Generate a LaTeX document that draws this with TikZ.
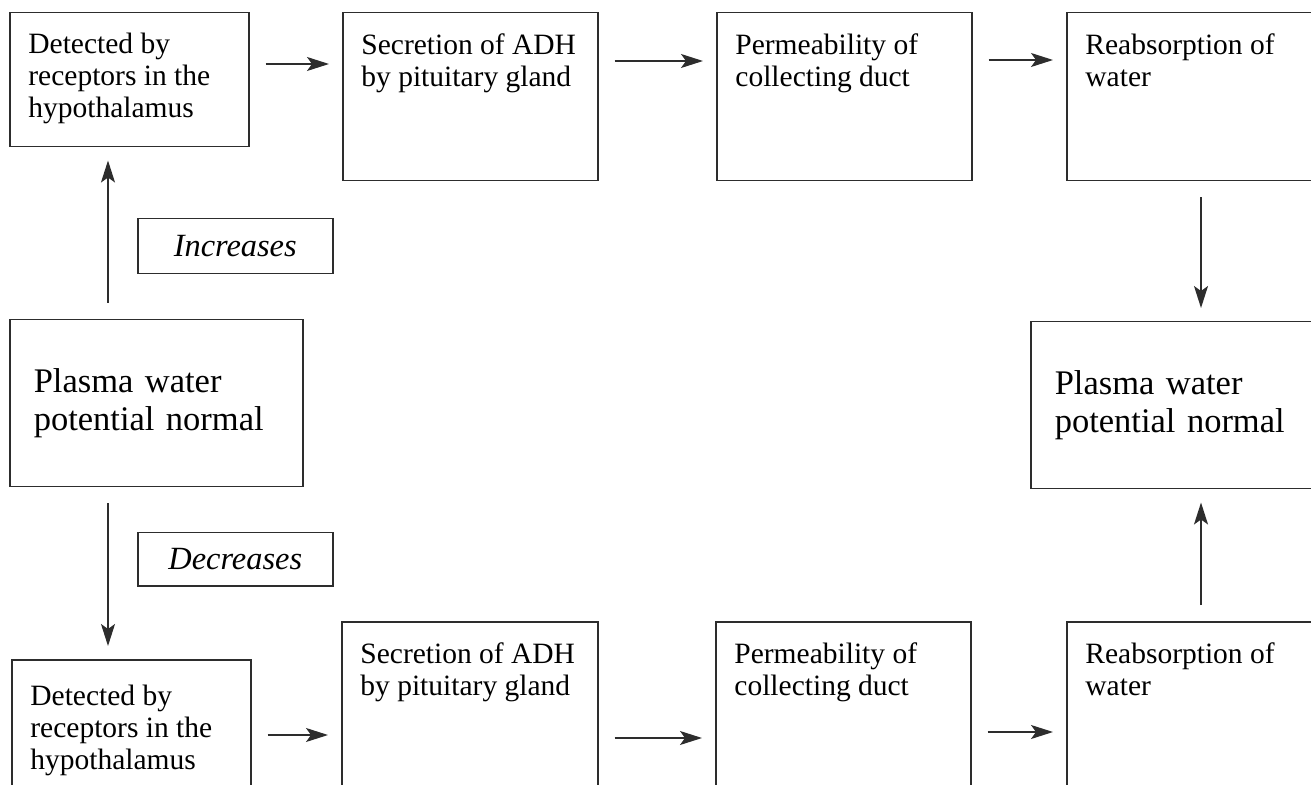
\documentclass[tikz,border=0pt]{standalone}
\usepackage{fontspec}
\setmainfont{Liberation Serif}
\usetikzlibrary{arrows.meta}
\definecolor{ink}{RGB}{45,45,45}

\tikzset{
  stage/.style={draw=ink, line width=0.75pt, anchor=north west, inner sep=0pt},
  lbl/.style={anchor=north west, align=left, inner xsep=9.5pt, inner ysep=10.5pt,
              font=\fontsize{14.75pt}{16pt}\selectfont},
  plasma/.style={stage, align=left, inner xsep=12pt,
                 font=\fontsize{17.25pt}{19pt}\selectfont},
  tag/.style={stage, minimum width=97.5pt, font=\fontsize{16.2pt}{19pt}\selectfont\itshape},
  flow/.style={draw=ink, line width=0.75pt,
               -{Stealth[length=11pt,width=7pt,inset=2.5pt]},
               shorten <=8pt, shorten >=6.5pt}
}

\begin{document}
\begin{tikzpicture}[x=0.5pt, y=-0.5pt]
\useasboundingbox (0,0) rectangle (1311,785);
\clip (0,0) rectangle (1311,785);

% top row
\node[stage, minimum width=119.5pt, minimum height=67pt,
      label={[lbl]north west:{Detected by\\receptors in the\\hypothalamus}}] (hypo1) at (9,12) {};
\node[stage, minimum width=127.5pt, minimum height=84pt,
      label={[lbl]north west:{Secretion of ADH\\by pituitary gland}}] (adh1) at (342,12) {};
\node[stage, minimum width=127.5pt, minimum height=84pt,
      label={[lbl]north west:{Permeability of\\collecting duct}}] (duct1) at (716,12) {};
\node[stage, minimum width=132pt, minimum height=84pt,
      label={[lbl]north west:{Reabsorption of\\water}}] (water1) at (1066,12) {};

% middle
\node[tag, minimum height=27.5pt] (up) at (137,218) {Increases};
\node[plasma, text width=122.5pt, minimum width=146.5pt, minimum height=83.5pt] (start) at (9,319)
  {Plasma water\\potential normal};
\node[plasma, text width=126pt, minimum width=150pt, minimum height=83.5pt, inner xsep=11.5pt] (normal) at (1030,321)
  {Plasma water\\potential normal};
\node[tag, minimum height=26.5pt] (down) at (137,532) {Decreases};

% bottom row
\node[stage, minimum width=119.5pt, minimum height=80pt,
      label={[lbl, inner ysep=13pt]north west:{Detected by\\receptors in the\\hypothalamus}}] (hypo2) at (11,659) {};
\node[stage, minimum width=128pt, minimum height=90pt,
      label={[lbl]north west:{Secretion of ADH\\by pituitary gland}}] (adh2) at (341,621) {};
\node[stage, minimum width=127.5pt, minimum height=90pt,
      label={[lbl]north west:{Permeability of\\collecting duct}}] (duct2) at (715,621) {};
\node[stage, minimum width=132pt, minimum height=90pt,
      label={[lbl]north west:{Reabsorption of\\water}}] (water2) at (1066,621) {};

% arrows
\draw[flow] ([yshift=-26pt]hypo1.north east) -- ([yshift=-26pt]adh1.north west);
\draw[flow] ([yshift=-24.5pt]adh1.north east) -- ([yshift=-24.5pt]duct1.north west);
\draw[flow] ([yshift=-24pt]duct1.north east) -- ([yshift=-24pt]water1.north west);
\draw[flow] ([xshift=67.5pt]water1.south west) -- ([xshift=85.5pt]normal.north west);
\draw[flow] ([xshift=49.5pt]start.north west) -- ([xshift=49.5pt]hypo1.south west);
\draw[flow] ([xshift=49.5pt]start.south west) -- ([xshift=48.5pt]hypo2.north west);
\draw[flow] ([yshift=-38pt]hypo2.north east) -- ([yshift=-57pt]adh2.north west);
\draw[flow] ([yshift=-58.5pt]adh2.north east) -- ([yshift=-58.5pt]duct2.north west);
\draw[flow] ([yshift=-55.5pt]duct2.north east) -- ([yshift=-55.5pt]water2.north west);
\draw[flow] ([xshift=67.5pt]water2.north west) -- ([xshift=85.5pt]normal.south west);
\end{tikzpicture}
\end{document}
